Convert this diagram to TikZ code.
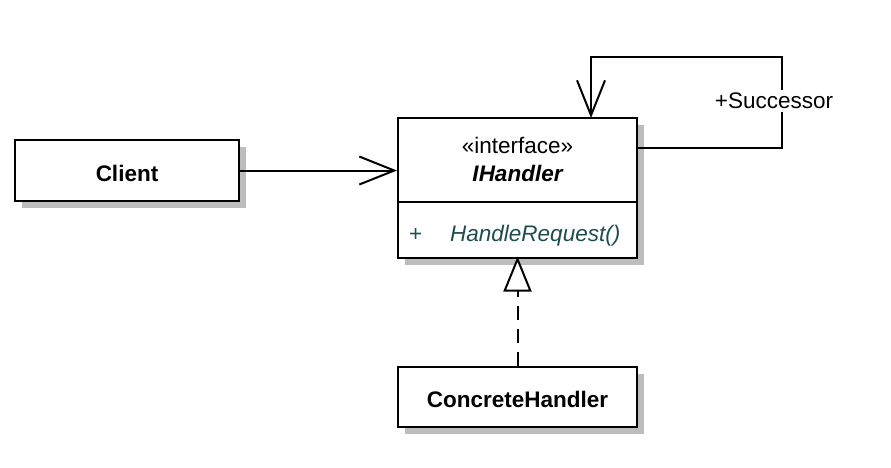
\documentclass[tikz,border=0pt]{standalone}
\usepackage{fontspec}
\setmainfont{Liberation Sans}
\usetikzlibrary{arrows.meta,calc}
\definecolor{shadowgray}{HTML}{BDBDBD}
\definecolor{optext}{HTML}{1F4C4C}
\begin{document}
\begin{tikzpicture}[x=1pt,y=-1pt,
  classbox/.style={draw=black,line width=2pt,fill=white,inner sep=0pt},
  lbl/.style={font=\fontsize{22.5}{27}\selectfont,inner sep=0pt},
  conn/.style={line width=2pt},
  openarrow/.style={-{Straight Barb[length=35pt,width=28pt,line width=2pt]}},
  realize/.style={-{Triangle[open,length=35pt,width=28pt,line width=2pt,fill=white]}}
]
\useasboundingbox (0,0) rectangle (891,467);
% shadows
\fill[shadowgray] (22,147) rectangle (246,208);
\fill[shadowgray] (405,125) rectangle (644,265);
\fill[shadowgray] (405,374) rectangle (644,434);
% boxes
\node[classbox,minimum width=224pt,minimum height=61pt] (client) at (127,170.5) {};
\node[lbl,font=\fontsize{22.5}{27}\selectfont\bfseries,anchor=base] (clientname) at (127,181.5) {Client};
\node[classbox,minimum width=239pt,minimum height=140pt] (ih) at (517.5,188) {};
\coordinate (divL) at (398,202);
\coordinate (divR) at (637,202);
\draw[line width=2pt] (divL) -- (divR);
\node[lbl,anchor=base] (stereo) at (517.5,153) {«interface»};
\node[lbl,font=\fontsize{22.5}{27}\selectfont\bfseries\itshape,anchor=base] (ihname) at (517.5,181.5) {IHandler};
\node[lbl,text=optext,anchor=base west] (plus) at (409,241) {+};
\node[lbl,text=optext,anchor=base west,font=\fontsize{22.5}{27}\selectfont\itshape] (op) at (450,241) {HandleRequest()};
\node[classbox,minimum width=239pt,minimum height=60pt] (ch) at (517.5,397) {};
\node[lbl,font=\fontsize{22.5}{27}\selectfont\bfseries,anchor=base] (chname) at (517.5,407.5) {ConcreteHandler};
% client association
\draw[conn,openarrow] (client.east) -- (client.east -| ih.west);
% self association
\coordinate (s0) at (637,148);
\coordinate (s1) at (782,148);
\coordinate (s2) at (782,57);
\coordinate (s3) at (591,57);
\coordinate (s4) at (591,118);
\draw[conn,openarrow] (s0) -- (s1) -- (s2) -- (s3) -- (s4);
\node[lbl,fill=white,inner ysep=3pt,inner xsep=1pt] (succ) at (774,101) {+Successor};
% realization
\draw[conn,realize,dash pattern=on 14pt off 9pt] (ch.north) -- ([yshift=2.5pt]ih.south);
\end{tikzpicture}
\end{document}
